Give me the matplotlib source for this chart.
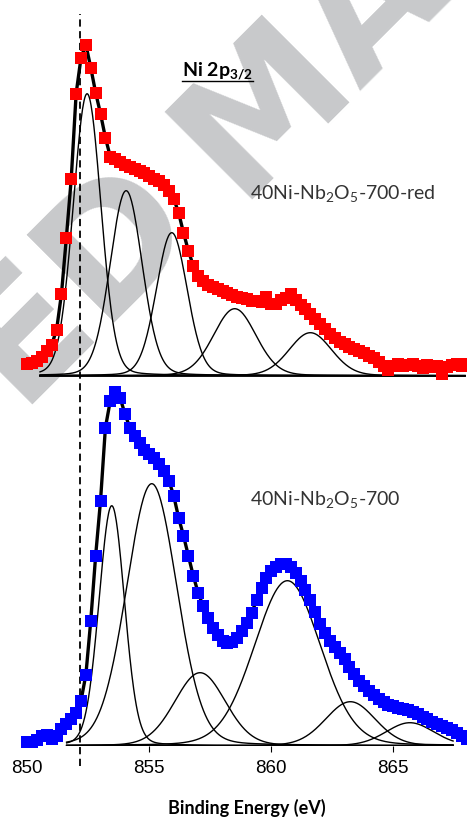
import numpy as np
import matplotlib.pyplot as plt
from matplotlib.lines import Line2D
from matplotlib.transforms import IdentityTransform

plt.rcParams['font.family'] = ['Lato', 'DejaVu Sans']
plt.rcParams['mathtext.fontset'] = 'custom'
plt.rcParams['mathtext.rm'] = 'Lato'
plt.rcParams['mathtext.it'] = 'Lato:italic'
plt.rcParams['mathtext.bf'] = 'Lato:bold'

# Ni 2p3/2 spectra, 0.2 eV step
energy = np.round(np.arange(850.0, 868.01, 0.2), 1)

red_counts = [12, 13, 15, 19, 25, 31, 46, 82, 138, 197,
              282, 318, 331, 308, 283, 262, 238, 219, 217, 214,
              211, 209, 207, 205, 203, 200, 197, 195, 191, 185,
              177, 163, 143, 125, 110, 100, 95, 91, 89, 87,
              85, 83, 81, 79, 78, 77, 75, 75, 74, 79,
              72, 72, 76, 78, 82, 76, 71, 67, 62, 57,
              52, 47, 42, 38, 34, 32, 29, 27, 25, 23,
              20, 18, 14, 10, 6, 10, 12, 10, 11, 12,
              10, 8, 11, 9, 10, 2, 9, 11, 12, 10, 12]

blue_counts = [4, 4, 6, 10, 11, 7, 10, 17, 22, 27,
               33, 45, 71, 125, 190, 245, 318, 345, 354, 348,
               332, 318, 310, 303, 296, 292, 288, 282, 275, 265,
               250, 228, 210, 190, 170, 153, 140, 128, 118, 111,
               105, 103, 104, 108, 115, 123, 133, 146, 158, 168,
               175, 179, 182, 182, 179, 173, 165, 156, 146, 134,
               122, 113, 105, 99, 93, 87, 79, 72, 65, 60,
               55, 51, 47, 44, 41, 40, 38, 37, 36, 34,
               32, 29, 27, 24, 22, 20, 18, 16, 13, 10, 7]

# fitted components: centre (eV), height, FWHM (eV)
red_centres = [852.45, 854.05, 855.92, 858.50, 861.60]
red_heights = [282, 185, 143, 67, 43]
red_fwhm = [1.34, 1.55, 1.49, 2.05, 2.05]
red_range = [850.52, 867.94]

blue_centres = [853.46, 855.10, 857.08, 860.66, 863.24, 865.68]
blue_heights = [240, 262, 73, 165, 44, 23]
blue_fwhm = [1.23, 2.43, 2.45, 3.2, 2.4, 2.3]
blue_range = [851.61, 867.45]

red_offset = 370
ni_metal = 852.17


def gl_peak(x, centre, height, fwhm, mix=0.1):
    u = 2 * (x - centre) / fwhm
    return height * ((1 - mix) * np.exp(-np.log(2) * u ** 2) + mix / (1 + u ** 2))


def draw_fit(ax, centres, heights, widths, span, offset):
    x = np.linspace(span[0], span[1], 600)
    for c, h, w in zip(centres, heights, widths):
        ax.plot(x, gl_peak(x, c, h, w) + offset, color='black', lw=1.0, zorder=2)
    ax.plot(span, [offset, offset], color='black', lw=1.3, zorder=2)


fig = plt.figure(figsize=(4.67, 8.2), dpi=100)
ax = fig.add_axes([0, 73.3 / 820, 1, 746.7 / 820])
ax.patch.set_visible(False)

draw_fit(ax, red_centres, red_heights, red_fwhm, red_range, red_offset)
draw_fit(ax, blue_centres, blue_heights, blue_fwhm, blue_range, 0)

ax.plot([ni_metal, ni_metal], [-20, 732], color='black', lw=1.3,
        dashes=(4, 2.5), zorder=1, clip_on=False)

# envelope under the measured points
ax.plot(energy, np.array(red_counts) + red_offset, '-', color='black', lw=2.4, zorder=3)
ax.plot(energy, blue_counts, '-', color='black', lw=2.4, zorder=3)

ax.plot(energy, np.array(red_counts) + red_offset, 's', color='#ff0000',
        ms=8.2, mew=0, zorder=4, clip_on=False)
ax.plot(energy, blue_counts, 's', color='#0000ff',
        ms=8.2, mew=0, zorder=4, clip_on=False)

ax.text(859.13, 547.7, r'40Ni-Nb$_2$O$_5$-700-red', fontsize=14, color='#333333',
        va='baseline', ha='left')
ax.text(859.13, 241.7, r'40Ni-Nb$_2$O$_5$-700', fontsize=14, color='#333333',
        va='baseline', ha='left')
title = ax.text(856.35, 669.7, r'Ni 2p$_{\mathbf{3/2}}$', fontsize=14,
                fontweight='bold', va='baseline', ha='left')

ax.set_xlim(848.88, 868.02)
ax.set_ylim(0, 746.7)
ax.set_xticks([850, 855, 860, 865])
ax.set_yticks([])
ax.tick_params(axis='x', direction='out', length=4.3, width=0.8, pad=5,
               labelsize=13.5)
for lbl in ax.get_xticklabels():
    lbl.set_family('Liberation Sans')
ax.xaxis.get_major_ticks()[0].tick1line.set_visible(False)
for s in ax.spines.values():
    s.set_visible(False)

ax.set_xlabel('Binding Energy (eV)', fontsize=13, fontweight='bold', va='center')
ax.xaxis.set_label_coords(246.5 / 467, -61.3 / 746.7)

# watermark
wm = dict(fontsize=122, fontweight='bold', color='#c8c9cb', rotation=45,
          rotation_mode='anchor', va='center', zorder=-5, family='DejaVu Sans')
fig.text(170 / 467, 1 - 200 / 820, 'ACCEPTED', ha='right', **wm)
fig.text(204 / 467, 1 - 166 / 820, 'MANUSCRIPT', ha='left', **wm)

# underline the title
fig.canvas.draw()
bb = title.get_window_extent()
fig.add_artist(Line2D([bb.x0, bb.x1], [bb.y0 + 1, bb.y0 + 1], lw=1.0,
                      color='black', transform=IdentityTransform()))

fig.savefig('out.png', dpi=100)
